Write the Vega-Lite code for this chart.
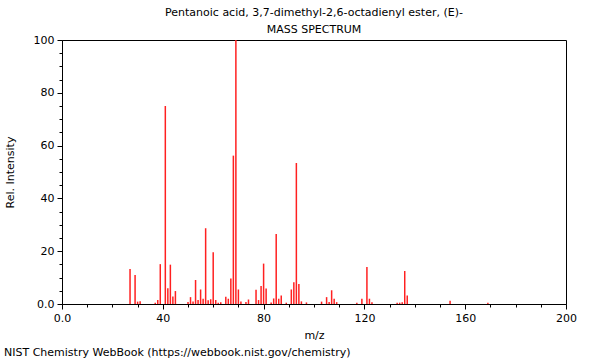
{
  "$schema": "https://vega.github.io/schema/vega-lite/v6.json",
  "width": 504,
  "height": 264,
  "autosize": {"type": "none"},
  "padding": {"left": 62, "top": 40, "right": 34, "bottom": 56},
  "background": "white",
  "title": {
    "text": ["Pentanoic acid, 3,7-dimethyl-2,6-octadienyl ester, (E)-", "MASS SPECTRUM"],
    "font": "DejaVu Sans",
    "fontSize": 11,
    "fontWeight": "normal",
    "color": "black",
    "anchor": "middle",
    "offset": -1,
    "lineHeight": 17
  },
  "config": {
    "view": {"stroke": "black", "strokeWidth": 1},
    "axis": {
      "labelFont": "DejaVu Sans",
      "labelFontSize": 11,
      "labelColor": "black",
      "labelFlush": false,
      "titleFont": "DejaVu Sans",
      "titleFontSize": 11,
      "titleFontWeight": "normal",
      "titleColor": "black",
      "tickColor": "black",
      "domainColor": "black",
      "grid": false
    }
  },
  "layer": [
    {
      "data": {
        "values": [
          {"mz": 27, "intensity": 13.3}, {"mz": 29, "intensity": 11.0}, {"mz": 30, "intensity": 0.9},
          {"mz": 31, "intensity": 1.0}, {"mz": 37, "intensity": 0.5}, {"mz": 38, "intensity": 1.5},
          {"mz": 39, "intensity": 15.1}, {"mz": 41, "intensity": 75.0}, {"mz": 42, "intensity": 6.0},
          {"mz": 43, "intensity": 14.9}, {"mz": 44, "intensity": 2.8}, {"mz": 45, "intensity": 4.9},
          {"mz": 50, "intensity": 0.8}, {"mz": 51, "intensity": 2.6}, {"mz": 52, "intensity": 0.9},
          {"mz": 53, "intensity": 9.1}, {"mz": 54, "intensity": 1.5}, {"mz": 55, "intensity": 5.5},
          {"mz": 56, "intensity": 2.0}, {"mz": 57, "intensity": 28.7}, {"mz": 58, "intensity": 1.4},
          {"mz": 59, "intensity": 1.8}, {"mz": 60, "intensity": 19.6}, {"mz": 61, "intensity": 1.5},
          {"mz": 62, "intensity": 0.5}, {"mz": 63, "intensity": 0.7}, {"mz": 65, "intensity": 2.7},
          {"mz": 66, "intensity": 2.0}, {"mz": 67, "intensity": 9.7}, {"mz": 68, "intensity": 56.2},
          {"mz": 69, "intensity": 100}, {"mz": 70, "intensity": 5.5}, {"mz": 71, "intensity": 0.9},
          {"mz": 73, "intensity": 0.8}, {"mz": 74, "intensity": 1.7}, {"mz": 77, "intensity": 5.4},
          {"mz": 78, "intensity": 1.5}, {"mz": 79, "intensity": 6.8}, {"mz": 80, "intensity": 15.3},
          {"mz": 81, "intensity": 5.9}, {"mz": 83, "intensity": 0.6}, {"mz": 84, "intensity": 2.1},
          {"mz": 85, "intensity": 26.5}, {"mz": 86, "intensity": 2.0}, {"mz": 87, "intensity": 3.2},
          {"mz": 89, "intensity": 0.5}, {"mz": 91, "intensity": 5.5}, {"mz": 92, "intensity": 8.2},
          {"mz": 93, "intensity": 53.4}, {"mz": 94, "intensity": 7.6}, {"mz": 95, "intensity": 1.0},
          {"mz": 97, "intensity": 0.6}, {"mz": 103, "intensity": 0.9}, {"mz": 105, "intensity": 2.6},
          {"mz": 106, "intensity": 0.8}, {"mz": 107, "intensity": 5.2}, {"mz": 108, "intensity": 2.0},
          {"mz": 109, "intensity": 0.7}, {"mz": 117, "intensity": 0.5}, {"mz": 119, "intensity": 2.0},
          {"mz": 121, "intensity": 14.0}, {"mz": 122, "intensity": 2.0}, {"mz": 123, "intensity": 0.7},
          {"mz": 133, "intensity": 0.5}, {"mz": 134, "intensity": 0.5}, {"mz": 135, "intensity": 0.7},
          {"mz": 136, "intensity": 12.5}, {"mz": 137, "intensity": 3.2}, {"mz": 154, "intensity": 1.2},
          {"mz": 169, "intensity": 0.5}
        ]
      },
      "layer": [
        {
          "mark": {"type": "rule", "color": "#ff2020", "strokeWidth": 1.5},
          "encoding": {
            "x": {
              "field": "mz", "type": "quantitative",
              "scale": {"domain": [0, 200], "nice": false, "zero": false},
              "axis": {
                "orient": "bottom",
                "values": [0, 40, 80, 120, 160, 200],
                "tickSize": 5,
                "labelPadding": 3,
                "labelExpr": "datum.value == 0 ? '0.0' : datum.label",
                "title": "m/z",
                "titlePadding": 6
              }
            },
            "y": {
              "field": "intensity", "type": "quantitative",
              "scale": {"domain": [0, 100], "nice": false},
              "axis": {
                "orient": "left",
                "values": [0, 20, 40, 60, 80, 100],
                "tickSize": 5,
                "labelPadding": 3,
                "labelExpr": "datum.value == 0 ? '0.0' : datum.label",
                "title": "Rel. Intensity",
                "titlePadding": 18
              }
            },
            "y2": {"datum": 0}
          }
        },
        {
          "mark": {"type": "rule", "opacity": 0},
          "encoding": {
            "x": {
              "field": "mz", "type": "quantitative",
              "axis": {
                "orient": "bottom",
                "values": [10, 20, 30, 50, 60, 70, 90, 100, 110, 130, 140, 150, 170, 180, 190],
                "tickSize": 3,
                "labels": false,
                "domain": false,
                "title": null
              }
            },
            "y": {
              "field": "intensity", "type": "quantitative",
              "axis": {
                "orient": "left",
                "values": [5, 10, 15, 25, 30, 35, 45, 50, 55, 65, 70, 75, 85, 90, 95],
                "tickSize": 3,
                "labels": false,
                "domain": false,
                "title": null
              }
            }
          }
        }
      ],
      "resolve": {"axis": {"x": "independent", "y": "independent"}}
    },
    {
      "data": {"values": [{"note": "NIST Chemistry WebBook (https://webbook.nist.gov/chemistry)"}]},
      "mark": {"type": "text", "font": "DejaVu Sans", "fontSize": 11, "color": "black", "align": "left", "baseline": "middle", "x": -58, "y": 313},
      "encoding": {"text": {"field": "note"}}
    }
  ]
}
